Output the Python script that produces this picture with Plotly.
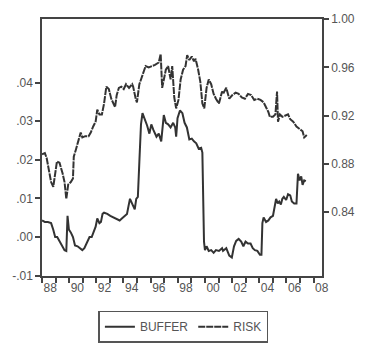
import plotly.graph_objects as go

# ---- data ----
buffer_t = [1988.00, 1988.21, 1988.43, 1988.67, 1988.83, 1988.97, 1989.12, 1989.29, 1989.47, 1989.66,
            1989.79, 1989.88, 1989.98, 1990.12, 1990.28, 1990.43, 1990.62, 1990.81, 1990.97, 1991.12,
            1991.31, 1991.50, 1991.66, 1991.81, 1991.95, 1992.07, 1992.23, 1992.34, 1992.46, 1992.57,
            1992.81, 1993.03, 1993.26, 1993.50, 1993.72, 1993.88, 1994.07, 1994.26, 1994.37, 1994.48,
            1994.67, 1994.83, 1994.94, 1995.06, 1995.17, 1995.29, 1995.40, 1995.59, 1995.74, 1995.91,
            1996.05, 1996.21, 1996.43, 1996.60, 1996.78, 1996.97, 1997.12, 1997.29, 1997.47, 1997.66,
            1997.81, 1997.88, 1997.98, 1998.16, 1998.34, 1998.50, 1998.67, 1998.85, 1999.03, 1999.19,
            1999.36, 1999.54, 1999.72, 1999.81, 1999.86, 1999.93, 2000.00, 2000.12, 2000.28, 2000.46,
            2000.64, 2000.81, 2001.03, 2001.26, 2001.33, 2001.57, 2001.79, 2001.98, 2002.14, 2002.30,
            2002.48, 2002.67, 2002.83, 2002.99, 2003.17, 2003.36, 2003.52, 2003.68, 2003.86, 2004.05,
            2004.16, 2004.23, 2004.32, 2004.50, 2004.67, 2004.83, 2005.01, 2005.12, 2005.24, 2005.36,
            2005.47, 2005.59, 2005.70, 2005.81, 2005.98, 2006.12, 2006.28, 2006.40, 2006.57, 2006.74,
            2006.85, 2006.97, 2007.09, 2007.19, 2007.31, 2007.43]
buffer_v = [0.0043, 0.0039, 0.0039, 0.0036, 0.0019, 0.0000, 0.0000, -0.0012, -0.0022, -0.0034,
            -0.0036, 0.0055, 0.0019, 0.0012, 0.0000, -0.0022, -0.0024, -0.0029, -0.0034, -0.0029,
            -0.0012, 0.0000, 0.0000, 0.0012, 0.0027, 0.0048, 0.0036, 0.0039, 0.0060, 0.0063,
            0.0060, 0.0055, 0.0051, 0.0048, 0.0043, 0.0048, 0.0055, 0.0060, 0.0080, 0.0099,
            0.0084, 0.0072, 0.0099, 0.0104, 0.0195, 0.0292, 0.0321, 0.0304, 0.0289, 0.0268,
            0.0292, 0.0277, 0.0260, 0.0268, 0.0248, 0.0316, 0.0296, 0.0292, 0.0284, 0.0296,
            0.0284, 0.0260, 0.0308, 0.0328, 0.0321, 0.0296, 0.0284, 0.0253, 0.0255, 0.0248,
            0.0243, 0.0229, 0.0231, 0.0219, 0.0116, -0.0012, -0.0034, -0.0024, -0.0036, -0.0034,
            -0.0041, -0.0034, -0.0036, -0.0029, -0.0036, -0.0029, -0.0048, -0.0053, -0.0024, -0.0010,
            -0.0005, -0.0012, -0.0024, -0.0012, -0.0017, -0.0017, -0.0029, -0.0034, -0.0036, -0.0046,
            -0.0046, 0.0036, 0.0051, 0.0039, 0.0043, 0.0051, 0.0055, 0.0080, 0.0099, 0.0087,
            0.0092, 0.0084, 0.0099, 0.0104, 0.0096, 0.0111, 0.0108, 0.0092, 0.0087, 0.0087,
            0.0164, 0.0147, 0.0157, 0.0135, 0.0147, 0.0145]

risk_t = [1988.00, 1988.21, 1988.34, 1988.55, 1988.67, 1988.83, 1988.97, 1989.10, 1989.29, 1989.43,
          1989.52, 1989.66, 1989.79, 1989.93, 1990.12, 1990.28, 1990.34, 1990.50, 1990.67, 1990.85,
          1990.97, 1991.19, 1991.43, 1991.59, 1991.77, 1991.95, 1992.07, 1992.23, 1992.41, 1992.57,
          1992.74, 1992.92, 1993.10, 1993.26, 1993.38, 1993.50, 1993.66, 1993.84, 1994.02, 1994.19,
          1994.41, 1994.64, 1994.71, 1994.90, 1994.99, 1995.17, 1995.40, 1995.63, 1995.86, 1996.09,
          1996.32, 1996.60, 1996.74, 1996.85, 1996.97, 1997.12, 1997.29, 1997.47, 1997.59, 1997.74,
          1997.88, 1998.05, 1998.21, 1998.39, 1998.57, 1998.69, 1998.85, 1999.03, 1999.19, 1999.31,
          1999.50, 1999.66, 1999.81, 1999.95, 2000.12, 2000.28, 2000.46, 2000.64, 2000.81, 2001.03,
          2001.26, 2001.33, 2001.57, 2001.79, 2002.02, 2002.26, 2002.48, 2002.71, 2002.94, 2003.17,
          2003.40, 2003.63, 2003.86, 2004.09, 2004.32, 2004.50, 2004.67, 2004.78, 2005.01, 2005.19,
          2005.31, 2005.38, 2005.52, 2005.70, 2005.93, 2006.12, 2006.28, 2006.50, 2006.74, 2006.97,
          2007.19, 2007.31, 2007.50]
risk_v = [0.888, 0.889, 0.885, 0.873, 0.865, 0.861, 0.871, 0.882, 0.881, 0.876,
          0.872, 0.865, 0.851, 0.863, 0.865, 0.868, 0.886, 0.892, 0.899, 0.906,
          0.902, 0.903, 0.903, 0.906, 0.911, 0.915, 0.925, 0.921, 0.921, 0.930,
          0.944, 0.942, 0.934, 0.930, 0.927, 0.937, 0.943, 0.944, 0.942, 0.946,
          0.943, 0.946, 0.944, 0.934, 0.931, 0.946, 0.954, 0.961, 0.960, 0.961,
          0.962, 0.964, 0.971, 0.943, 0.950, 0.958, 0.961, 0.950, 0.961, 0.935,
          0.926, 0.933, 0.950, 0.958, 0.961, 0.970, 0.966, 0.969, 0.965, 0.967,
          0.958, 0.948, 0.930, 0.926, 0.943, 0.950, 0.946, 0.938, 0.934, 0.930,
          0.940, 0.938, 0.943, 0.934, 0.937, 0.939, 0.938, 0.935, 0.934, 0.938,
          0.937, 0.933, 0.934, 0.933, 0.931, 0.927, 0.923, 0.919, 0.919, 0.921,
          0.940, 0.915, 0.921, 0.919, 0.920, 0.921, 0.917, 0.915, 0.911, 0.909,
          0.907, 0.902, 0.904]

left_ticks = [-0.01, 0.00, 0.01, 0.02, 0.03, 0.04]
left_labels = ["-.01", ".00", ".01", ".02", ".03", ".04"]
right_ticks = [0.84, 0.88, 0.92, 0.96, 1.00]
right_labels = ["0.84", "0.88", "0.92", "0.96", "1.00"]
years = list(range(1988, 2009))
year_labels = [("%02d" % (y % 100)) if y % 2 == 0 else "" for y in years]

LINE = "#333333"
AXIS = "#444444"
TXT = "#555555"
FONT = "Liberation Sans, Arial, sans-serif"

fig = go.Figure()
fig.add_trace(go.Scatter(x=buffer_t, y=buffer_v, name="BUFFER", mode="lines",
                         line=dict(color=LINE, width=2), yaxis="y"))
fig.add_trace(go.Scatter(x=risk_t, y=risk_v, name="RISK", mode="lines",
                         line=dict(color=LINE, width=2, dash="7px,1px"), yaxis="y2"))

fig.update_layout(
    width=367, height=355,
    margin=dict(l=34, r=34, t=13, b=67),
    paper_bgcolor="white", plot_bgcolor="white",
    font=dict(family=FONT, size=12, color=TXT),
    showlegend=True,
    legend=dict(orientation="h", x=0.505, xanchor="center", y=-0.135, yanchor="top",
                bordercolor="#555555", borderwidth=1.5, font=dict(size=12, color=TXT),
                itemwidth=30, tracegroupgap=0),
    xaxis=dict(range=[1988, 2008.62], tickmode="array", tickvals=years, ticktext=year_labels,
               ticks="outside", ticklen=5, tickcolor=AXIS, tickwidth=1.5,
               ticklabelposition="outside right",
               showline=True, linecolor=AXIS, linewidth=1.5, mirror=True,
               showgrid=False, zeroline=False, tickfont=dict(size=12, color=TXT)),
    yaxis=dict(range=[-0.0101, 0.0565], tickmode="array", tickvals=left_ticks, ticktext=left_labels,
               ticks="outside", ticklen=5, tickcolor=AXIS, tickwidth=1.5,
               showline=True, linecolor=AXIS, linewidth=1.5,
               showgrid=False, zeroline=False, tickfont=dict(size=12, color=TXT)),
    yaxis2=dict(range=[0.7872, 1.0], overlaying="y", side="right", tickmode="array",
                tickvals=right_ticks, ticktext=right_labels,
                ticks="outside", ticklen=5, tickcolor=AXIS, tickwidth=1.5,
                showline=True, linecolor=AXIS, linewidth=1.5,
                showgrid=False, zeroline=False, tickfont=dict(size=12, color=TXT)),
)

fig.write_html("out.html")
